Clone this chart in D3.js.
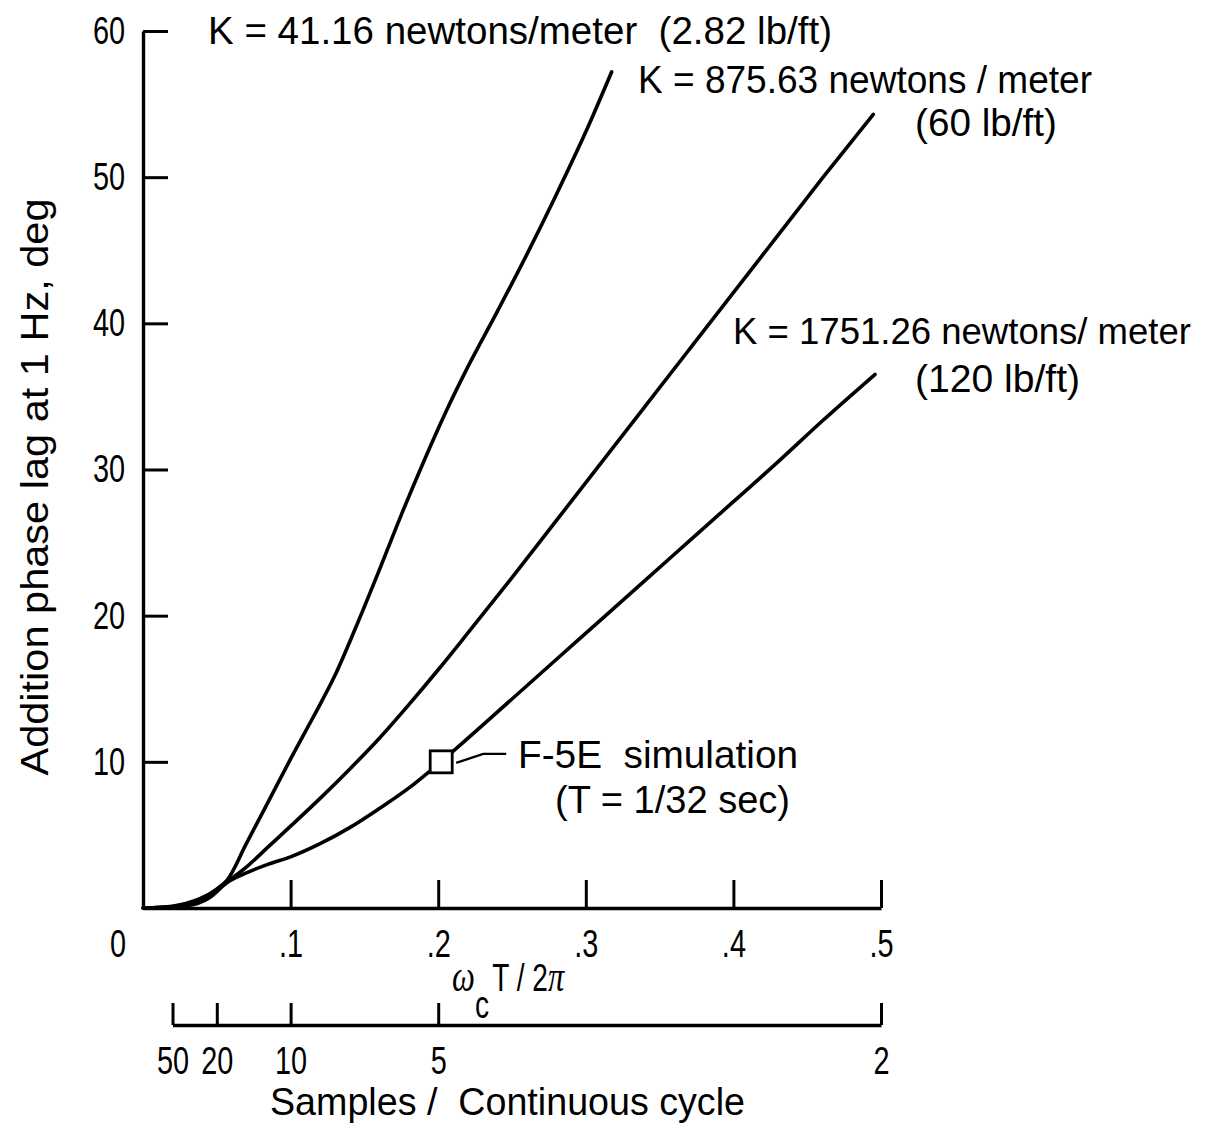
<!DOCTYPE html>
<html><head><meta charset="utf-8">
<script src="https://cdn.jsdelivr.net/npm/d3@7"></script>
<style>
html,body{margin:0;padding:0;background:#fff;}
svg text{font-family:"Liberation Sans Narrow","Liberation Sans",Arial,sans-serif;fill:#000;}
svg tspan.serif{font-family:"Liberation Serif",serif;font-style:italic;}
</style>
</head><body>
<svg id="chart" width="1217" height="1128"></svg>
<script>
// ---- data ----
const xTicks = [0.1, 0.2, 0.3, 0.4, 0.5];
const xTickLabels = [".1", ".2", ".3", ".4", ".5"];
const yTicks = [10, 20, 30, 40, 50, 60];
const sampleTicks = [50, 20, 10, 5, 2];

const curveK41 = [[0,0],[0.02,0.12],[0.035,0.5],[0.048,1.15],[0.057,1.9],[0.07,4.4],[0.085,7.3],[0.1,10.2],[0.115,13.0],[0.13,15.9],[0.145,19.4],[0.16,23.1],[0.175,26.9],[0.19,30.5],[0.205,33.9],[0.22,37.0],[0.24,40.8],[0.26,44.7],[0.28,48.8],[0.30,53.1],[0.3175,57.2]];
const curveK875 = [[0,0],[0.02,0.1],[0.04,0.65],[0.057,1.8],[0.07,2.8],[0.085,4.2],[0.1,5.6],[0.12,7.5],[0.14,9.5],[0.16,11.6],[0.18,13.9],[0.2,16.3],[0.22,18.8],[0.25,22.6],[0.28,26.5],[0.31,30.4],[0.34,34.3],[0.37,38.2],[0.40,42.1],[0.43,46.0],[0.46,49.9],[0.4948,54.3]];
const curveK1751 = [[0.01,0],[0.03,0.15],[0.045,0.7],[0.057,1.75],[0.07,2.4],[0.085,3.0],[0.1,3.5],[0.12,4.4],[0.14,5.5],[0.16,6.8],[0.18,8.2],[0.2,9.85],[0.22,11.6],[0.25,14.3],[0.28,17.0],[0.31,19.7],[0.34,22.4],[0.37,25.1],[0.40,27.8],[0.43,30.5],[0.46,33.3],[0.4959,36.5]];
const simPoint = [0.2, 10];

const labels = [
  {text:"K = 41.16 newtons/meter  (2.82 lb/ft)", x:208, y:44, w:624, fs:39},
  {text:"K = 875.63 newtons / meter", x:638, y:93, w:454, fs:39},
  {text:"(60 lb/ft)", x:915, y:136, w:142, fs:39},
  {text:"K = 1751.26 newtons/ meter", x:733, y:344, w:458, fs:37},
  {text:"(120 lb/ft)", x:915, y:392, w:165, fs:39},
  {text:"F-5E  simulation", x:518, y:768, w:280, fs:39},
  {text:"(T = 1/32 sec)", x:555, y:813, w:235, fs:39}
];

// ---- drawing ----
const svg = d3.select("#chart");
const FS = 39;
const COND = 0.74;
const x = d3.scaleLinear().domain([0, 0.5]).range([143, 881]);
const y = d3.scaleLinear().domain([0, 60]).range([908, 31]);
const sx = d3.scalePow().exponent(-1).domain([50, 2]).range([x(1/50), x(1/2)]);

function condense(sel, f){
  sel.each(function(){
    const w = this.getComputedTextLength();
    d3.select(this).attr("textLength", w*f).attr("lengthAdjust","spacingAndGlyphs");
  });
}
function styleAxis(g){
  g.attr("font-family",null).attr("font-size",null);
  g.selectAll("path.domain").attr("stroke","#000").attr("stroke-width",3.4);
  g.selectAll(".tick line").attr("stroke","#000").attr("stroke-width",3);
  g.selectAll(".tick text").attr("font-size",FS).call(condense, COND);
}

// x axis
svg.append("g").attr("transform",`translate(0,${y(0)})`)
  .call(d3.axisBottom(x).tickValues(xTicks).tickFormat((d,i)=>xTickLabels[i]).tickSize(-28).tickSizeOuter(0).tickPadding(21))
  .call(styleAxis);
svg.append("text").attr("x", x(0)-25).attr("y", 957).attr("text-anchor","middle").attr("font-size",FS).text("0").call(condense, COND);

// y axis
svg.append("g").attr("transform",`translate(${x(0)},0)`)
  .call(d3.axisLeft(y).tickValues(yTicks).tickSize(-25).tickSizeOuter(0).tickPadding(18))
  .call(styleAxis);

// samples axis
svg.append("g").attr("transform","translate(0,1025)")
  .call(d3.axisBottom(sx).tickValues(sampleTicks).tickFormat(d3.format("d")).tickSize(-22).tickSizeOuter(0).tickPadding(21))
  .call(styleAxis);

// curves
const line = d3.line().x(d=>x(d[0])).y(d=>y(d[1])).curve(d3.curveMonotoneX);
[curveK41, curveK875, curveK1751].forEach(c=>{
  svg.append("path").datum(c).attr("d",line).attr("fill","none").attr("stroke","#000")
    .attr("stroke-width",3.6).attr("stroke-linecap","round").attr("stroke-linejoin","round");
});

// simulation marker
svg.append("rect").attr("x",x(simPoint[0])-8).attr("y",y(simPoint[1])-11).attr("width",22).attr("height",22)
  .attr("fill","#fff").attr("stroke","#000").attr("stroke-width",2.8);
svg.append("path").attr("d",`M${x(simPoint[0])+18},${y(simPoint[1])+1} L${x(simPoint[0])+45},${y(simPoint[1])-8} L${x(simPoint[0])+68},${y(simPoint[1])-8}`)
  .attr("fill","none").attr("stroke","#000").attr("stroke-width",2.4);

// labels
labels.forEach(l=>{
  svg.append("text").attr("x",l.x).attr("y",l.y).attr("font-size",l.fs)
    .attr("textLength",l.w).attr("lengthAdjust","spacingAndGlyphs").attr("xml:space","preserve").text(l.text);
});

// axis titles
svg.append("text").attr("transform","translate(48,487) rotate(-90)").attr("text-anchor","middle")
  .attr("font-size",FS).attr("textLength",577).attr("lengthAdjust","spacingAndGlyphs")
  .text("Addition phase lag at 1 Hz, deg");

const wt = svg.append("text").attr("transform","translate(452,991) scale(0.72,1)").attr("font-size",FS).attr("xml:space","preserve");
wt.append("tspan").attr("class","serif").attr("x",0).attr("y",0).attr("font-size",FS+6).text("ω");
wt.append("tspan").attr("x",32).attr("y",27).text("c");
wt.append("tspan").attr("x",56).attr("y",0).text("T / 2");
wt.append("tspan").attr("class","serif").attr("font-size",FS+6).text("π");

svg.append("text").attr("x",270).attr("y",1115).attr("font-size",FS)
  .attr("textLength",475).attr("lengthAdjust","spacingAndGlyphs").attr("xml:space","preserve")
  .text("Samples /  Continuous cycle");
</script>
</body></html>
